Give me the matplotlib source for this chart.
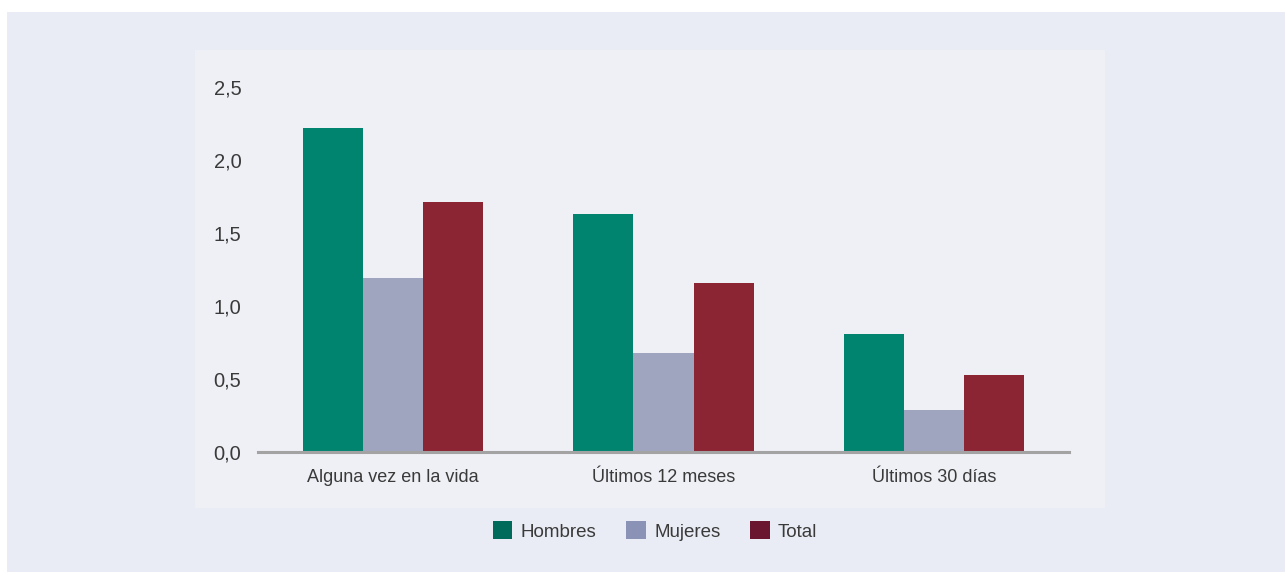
import matplotlib
matplotlib.use('Agg')
import numpy as np
import matplotlib.pyplot as plt
from matplotlib.patches import Rectangle, Patch

categories = ['Alguna vez en la vida', 'Últimos 12 meses', 'Últimos 30 días']
series = ['Hombres', 'Mujeres', 'Total']
hombres = [2.22, 1.63, 0.81]
mujeres = [1.19, 0.68, 0.29]
total = [1.71, 1.16, 0.53]
yticks = [0.0, 0.5, 1.0, 1.5, 2.0, 2.5]
ytick_labels = ['0,0', '0,5', '1,0', '1,5', '2,0', '2,5']

bar_colors = ['#008470', '#a0a5bf', '#8c2533']
legend_colors = ['#006b5a', '#8a93b5', '#6a1631']
text_color = '#3a3a3a'

plt.rcParams['font.family'] = ['Liberation Sans', 'DejaVu Sans']

W, H = 1285, 573
fig = plt.figure(figsize=(W / 100, H / 100), dpi=100, facecolor='white')

# outer and inner panels (pixel coords -> figure fraction)
def px_rect(x0, y0, x1, y1, color, z):
    fig.patches.append(Rectangle((x0 / W, 1 - y1 / H), (x1 - x0) / W, (y1 - y0) / H,
                                 transform=fig.transFigure, facecolor=color,
                                 edgecolor='none', zorder=z))

px_rect(7, 12, 1285, 572, '#e9ecf4', 0)
px_rect(195, 50, 1105, 508, '#eff0f5', 1)

ax = fig.add_axes([258 / W, 1 - 452 / H, (1069 - 258) / W, (452 - 87) / H])
ax.set_facecolor('none')
ax.set_zorder(5)

x = np.arange(len(categories))
bw = 0.222
for i, (vals, c) in enumerate(zip([hombres, mujeres, total], bar_colors)):
    ax.bar(x + (i - 1) * bw, vals, width=bw, color=c, edgecolor='none', zorder=2)

ax.set_xlim(-0.5, 2.5)
ax.set_ylim(0, 2.5)
ax.set_yticks(yticks)
ax.set_yticklabels(ytick_labels)
ax.set_xticks(x)
ax.set_xticklabels(categories)
ax.tick_params(axis='both', length=0, labelsize=13, colors=text_color)
ax.tick_params(axis='y', pad=12, labelsize=14.5)
ax.tick_params(axis='x', pad=12)
for s in ['top', 'right', 'left']:
    ax.spines[s].set_visible(False)
ax.spines['bottom'].set_color('#a3a3a3')
ax.spines['bottom'].set_linewidth(2.2)
ax.spines['bottom'].set_zorder(3)

handles = [Patch(facecolor=c, edgecolor='none') for c in legend_colors]
leg = fig.legend(handles, series, loc='center', bbox_to_anchor=(655 / W, 1 - 531 / H),
                 ncol=3, frameon=False, fontsize=13.5, labelcolor=text_color,
                 handlelength=1.05, handleheight=1.05, handletextpad=0.45,
                 columnspacing=1.57)
leg.set_zorder(6)

fig.savefig('out.png', dpi=100, facecolor='white')
